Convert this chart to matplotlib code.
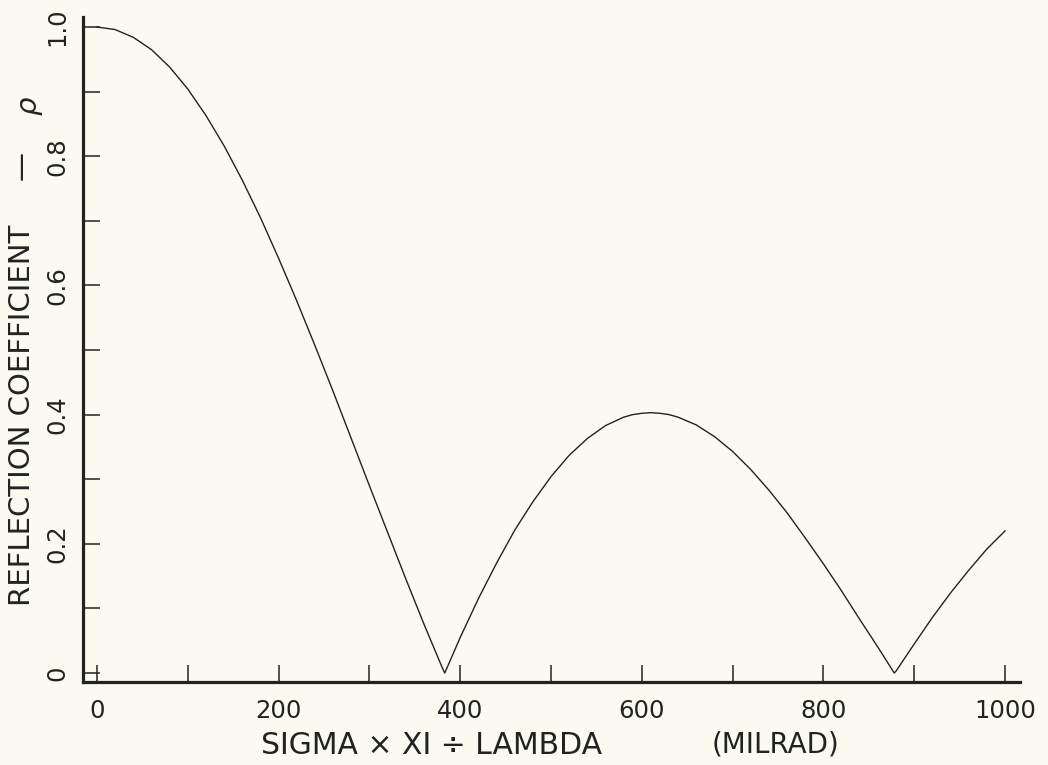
import matplotlib
matplotlib.use("Agg")
import matplotlib.pyplot as plt

# Reflection coefficient rho versus sigma*xi/lambda (milliradians)
sigma_xi_lambda = [0, 20, 40, 60, 80, 100, 120, 140, 160, 180, 200, 220, 240, 260, 280,
                   300, 320, 340, 360, 380, 383, 400, 420, 440, 460, 480, 500, 520, 540,
                   560, 580, 590, 600, 610, 620, 630, 640, 660, 680, 700, 720, 740, 760,
                   780, 800, 820, 840, 860, 878, 880, 900, 920, 940, 960, 980, 1000]
rho = [1.000, 0.996, 0.984, 0.965, 0.938, 0.904, 0.863, 0.816, 0.763, 0.705, 0.642,
       0.576, 0.507, 0.436, 0.363, 0.290, 0.218, 0.146, 0.076, 0.009, 0.000, 0.055,
       0.115, 0.170, 0.221, 0.265, 0.304, 0.337, 0.363, 0.383, 0.396, 0.400, 0.402,
       0.403, 0.402, 0.400, 0.396, 0.384, 0.366, 0.343, 0.315, 0.283, 0.248, 0.209,
       0.169, 0.127, 0.083, 0.040, 0.000, 0.003, 0.045, 0.086, 0.124, 0.159, 0.192,
       0.220]

x_ticks = [0, 100, 200, 300, 400, 500, 600, 700, 800, 900, 1000]
x_tick_labels = ["0", "", "200", "", "400", "", "600", "", "800", "", "1000"]
y_ticks = [0, 0.1, 0.2, 0.3, 0.4, 0.5, 0.6, 0.7, 0.8, 0.9, 1.0]
y_tick_labels = ["0", "", "0.2", "", "0.4", "", "0.6", "", "0.8", "", "1.0"]

paper = "#fafaf0"
ink = "#222222"
plt.rcParams["font.family"] = ["DejaVu Sans"]

W, H = 1048, 765
fig = plt.figure(figsize=(W / 100, H / 100), dpi=100, facecolor=paper)
ax = fig.add_axes([0.0792, 0.1085, 0.8941, 0.8693], facecolor=paper)

ax.plot(sigma_xi_lambda, rho, color=ink, lw=1.0)

ax.set_xlim(-15.4, 1016.5)
ax.set_ylim(-0.0139, 1.0155)

for side in ("top", "right"):
    ax.spines[side].set_visible(False)
for side in ("left", "bottom"):
    ax.spines[side].set_linewidth(2.3)
    ax.spines[side].set_color(ink)

ax.set_xticks(x_ticks)
ax.set_xticklabels(x_tick_labels)
ax.set_yticks(y_ticks)
ax.set_yticklabels(y_tick_labels, rotation=90, va="center")
ax.tick_params(axis="x", direction="in", length=12.5, width=1.1, color=ink,
               labelsize=17.5, labelcolor=ink, pad=12)
ax.tick_params(axis="y", direction="in", length=12.5, width=1.1, color=ink,
               labelsize=17.5, labelcolor=ink, pad=10)

# axis titles, positioned in pixel terms of the figure
def px(x, y):
    return x / W, 1 - y / H

fig.text(*px(432, 745), "SIGMA \u00d7 XI \u00f7 LAMBDA", ha="center", va="center",
         fontsize=21.5, color=ink)
fig.text(*px(775, 745), "(MILRAD)", ha="center", va="center",
         fontsize=20, color=ink)
fig.text(*px(22.5, 415), "REFLECTION COEFFICIENT", rotation=90,
         ha="center", va="center", fontsize=21, color=ink)
fig.text(*px(22, 165), "\u2014", rotation=90, ha="center", va="center",
         fontsize=21, color=ink)
fig.text(*px(29, 106), "\u03c1", rotation=90, ha="center", va="center",
         fontsize=21, style="italic", color=ink)

fig.savefig("out.png", dpi=100, facecolor=paper)
